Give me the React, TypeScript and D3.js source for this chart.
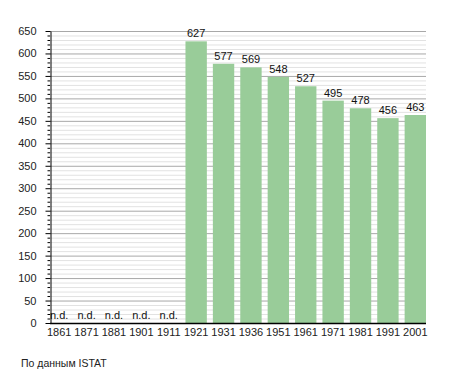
import React, { useEffect, useRef } from 'react';
import * as d3 from 'd3';

// census years and population (null = no data)
const years = ['1861', '1871', '1881', '1901', '1911', '1921', '1931', '1936', '1951', '1961', '1971', '1981', '1991', '2001'];
const population: (number | null)[] = [null, null, null, null, null, 627, 577, 569, 548, 527, 495, 478, 456, 463];
const yTicks = [0, 50, 100, 150, 200, 250, 300, 350, 400, 450, 500, 550, 600, 650];
const sourceNote = 'По данным  ISTAT';

const W = 455;
const H = 373;

const App = () => {
  const svgRef = useRef<SVGSVGElement>(null);

  useEffect(() => {
    document.body.style.margin = '0';
    const svg = d3.select(svgRef.current);
    svg.selectAll('*').remove();

    const left = 50, right = 426, top = 31, bottom = 323;
    const font = 'Liberation Sans, Arial, sans-serif';

    const x = d3.scaleBand<string>()
      .domain(years)
      .range([48.5, right])
      .paddingInner(0.22)
      .paddingOuter(0);

    const y = d3.scaleLinear().domain([0, 650]).range([bottom, top]);

    // minor grid every 10
    const minor = d3.range(10, 651, 10).filter(v => v % 50 !== 0);
    svg.append('g')
      .selectAll('line')
      .data(minor)
      .enter()
      .append('line')
      .attr('x1', left).attr('x2', right)
      .attr('y1', d => y(d) + 0.5).attr('y2', d => y(d) + 0.5)
      .attr('stroke', '#e2e2e2')
      .attr('stroke-width', 1);

    // major grid every 50
    svg.append('g')
      .selectAll('line')
      .data(yTicks.filter(v => v > 0))
      .enter()
      .append('line')
      .attr('x1', left).attr('x2', right)
      .attr('y1', d => y(d) + 0.5).attr('y2', d => y(d) + 0.5)
      .attr('stroke', '#a8a8a8')
      .attr('stroke-width', 1);

    // bars
    const barData = years.map((yr, i) => ({ yr, v: population[i] }));
    svg.append('g')
      .selectAll('rect')
      .data(barData.filter(d => d.v !== null))
      .enter()
      .append('rect')
      .attr('x', d => x(d.yr)!)
      .attr('width', x.bandwidth())
      .attr('y', d => y(d.v as number))
      .attr('height', d => bottom - y(d.v as number))
      .attr('fill', '#99cc99');

    // value labels
    svg.append('g')
      .selectAll('text')
      .data(barData)
      .enter()
      .append('text')
      .attr('x', d => x(d.yr)! + x.bandwidth() / 2)
      .attr('y', d => (d.v === null ? bottom - 4 : y(d.v) - 4))
      .attr('text-anchor', 'middle')
      .style('font-family', font)
      .style('font-size', '11px')
      .style('fill', '#111')
      .text(d => (d.v === null ? 'n.d.' : String(d.v)));

    // y axis
    const yAxis = d3.axisLeft(y).tickValues(yTicks).tickSize(5).tickSizeOuter(0);
    const ga = svg.append('g').attr('transform', `translate(${left + 0.5},0)`).call(yAxis);
    ga.select('.domain').attr('stroke', '#000');
    ga.selectAll('text')
      .attr('x', -14)
      .style('font-family', font)
      .style('font-size', '11px')
      .style('fill', '#222');

    // minor y ticks
    svg.append('g')
      .selectAll('line')
      .data(minor)
      .enter()
      .append('line')
      .attr('x1', left - 2.5).attr('x2', left)
      .attr('y1', d => y(d) + 0.5).attr('y2', d => y(d) + 0.5)
      .attr('stroke', '#000');

    // x axis
    svg.append('line')
      .attr('x1', left).attr('x2', right)
      .attr('y1', bottom + 0.5).attr('y2', bottom + 0.5)
      .attr('stroke', '#000')
      .attr('stroke-width', 1.5);

    svg.append('g')
      .selectAll('text')
      .data(years)
      .enter()
      .append('text')
      .attr('x', d => x(d)! + x.bandwidth() / 2)
      .attr('y', bottom + 13)
      .attr('text-anchor', 'middle')
      .style('font-family', font)
      .style('font-size', '11px')
      .style('fill', '#222')
      .text(d => d);

    svg.append('text')
      .attr('x', 21)
      .attr('y', 367)
      .style('font-family', font)
      .style('font-size', '10.5px')
      .style('fill', '#222')
      .text(sourceNote);
  }, []);

  return <svg ref={svgRef} width={W} height={H} style={{ display: 'block', background: '#fff' }} />;
};

export default App;
